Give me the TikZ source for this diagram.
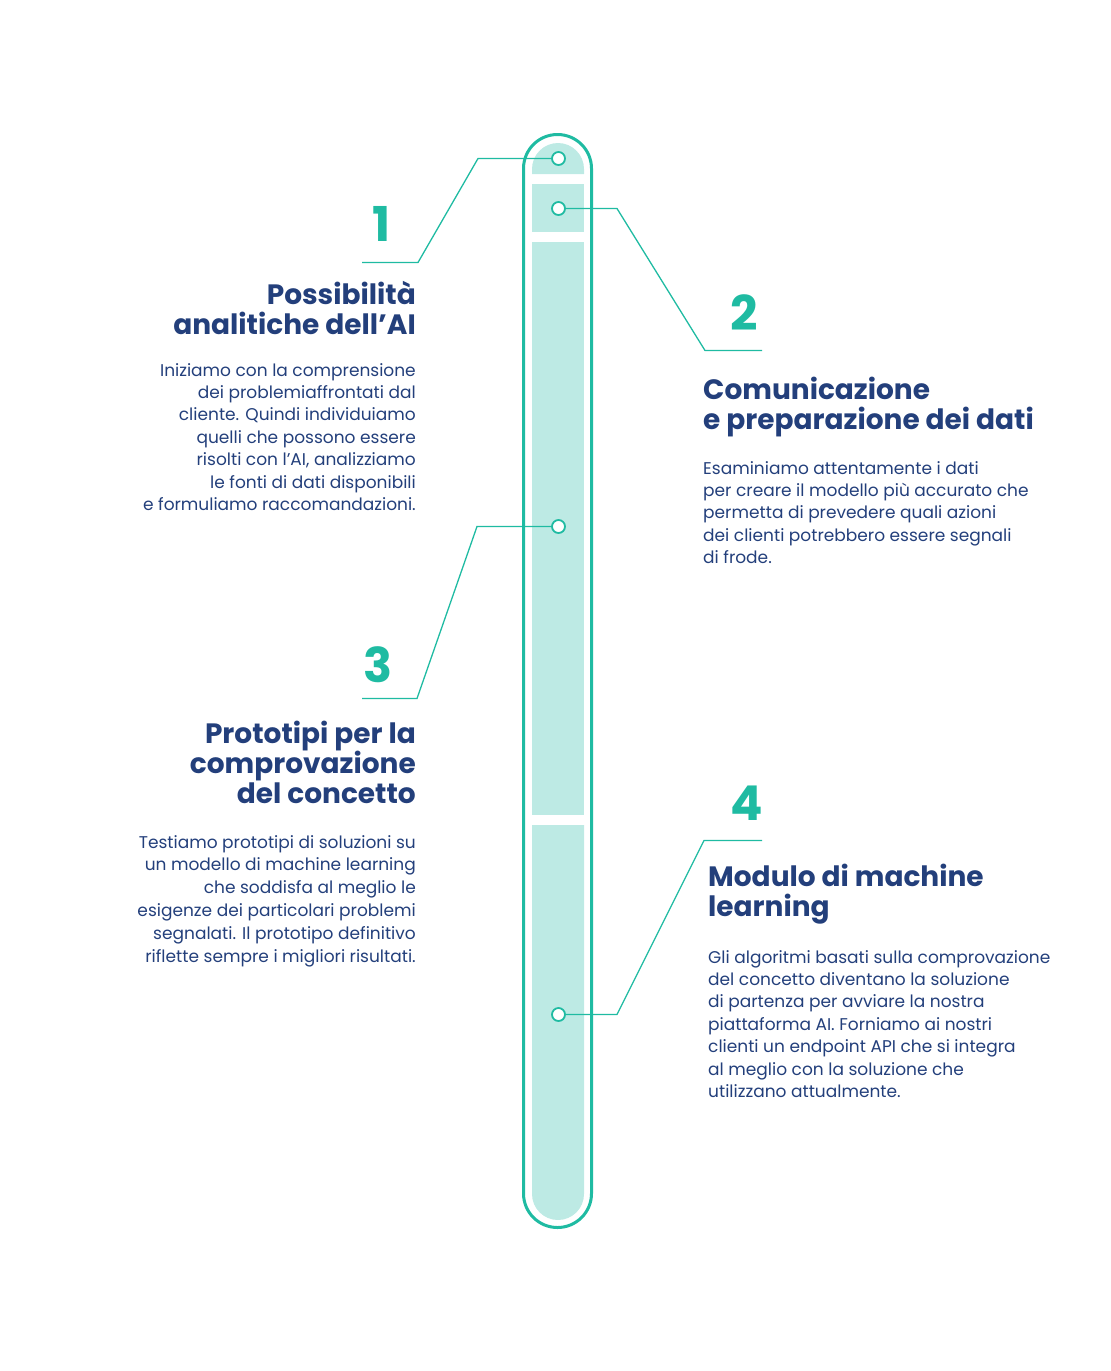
\documentclass[tikz,border=0pt]{standalone}
\usepackage{fontspec}
\setmainfont{Poppins}
\usetikzlibrary{positioning}
\definecolor{teal1}{HTML}{1FBBA2}
\definecolor{tealfill}{HTML}{BDEAE4}
\definecolor{navy}{HTML}{233F7B}

\begin{document}
\begin{tikzpicture}[
    x=1pt, y=-1pt,
    tube/.style={draw=teal1, line width=3pt, rounded corners=34pt},
    seg/.style={fill=tealfill},
    dot/.style={circle, draw=teal1, fill=white, line width=1.8pt, minimum size=13pt, inner sep=0pt},
    link/.style={draw=teal1, line width=1.3pt},
    num/.style={text=teal1, font=\fontsize{48}{48}\selectfont\bfseries, inner sep=0pt},
    head/.style={text=navy, font=\fontsize{28}{30}\selectfont\bfseries, inner sep=0pt},
    body/.style={text=navy, font=\fontsize{17}{22.4}\selectfont, inner sep=0pt}
]
\useasboundingbox (0,0) rectangle (1111,1371);

% 1. Tube and its filled segments
\draw[tube] (523.5,134.5) rectangle (591.5,1227.5);
\fill[seg] (532,174) -- (532,169) arc[start angle=180, end angle=0, radius=26pt] -- (584,174) -- cycle;
\fill[seg] (532,184) rectangle (584,232);
\fill[seg] (532,242) rectangle (584,815);
\fill[seg] (532,825) -- (584,825) -- (584,1194) arc[start angle=0, end angle=-180, radius=26pt] -- cycle;

% 2. Dots on the tube
\node[dot] (d1) at (558.5,158.5) {};
\node[dot] (d2) at (558.5,208.5) {};
\node[dot] (d3) at (558.5,526.5) {};
\node[dot] (d4) at (558.5,1014.5) {};

% 3. Bend points of the connectors
\coordinate (k1a) at (478,158.5);
\coordinate (k1b) at (418,262.5);
\coordinate (k1c) at (362,262.5);
\coordinate (k2a) at (617,208.5);
\coordinate (k2b) at (705,350.5);
\coordinate (k2c) at (762,350.5);
\coordinate (k3a) at (477,526.5);
\coordinate (k3b) at (417,698.5);
\coordinate (k3c) at (362,698.5);
\coordinate (k4a) at (617,1014.5);
\coordinate (k4b) at (704,840.5);
\coordinate (k4c) at (762,840.5);

\draw[link] (d1) -- (k1a) -- (k1b) -- (k1c);
\draw[link] (d2) -- (k2a) -- (k2b) -- (k2c);
\draw[link] (d3) -- (k3a) -- (k3b) -- (k3c);
\draw[link] (d4) -- (k4a) -- (k4b) -- (k4c);

% 4. Step numbers
\node[num] (n1) at (382,224) {1};
\node[num] (n2) at (744,313) {2};
\node[num] (n3) at (378,665) {3};
\node[num] (n4) at (747,803) {4};

% 5. Left column texts
\node[head, anchor=north east, align=right] (h1) at (416,281) {Possibilità\\analitiche dell’AI};
\node[body, anchor=north east, align=right] (b1) at (416,363) {Iniziamo con la comprensione\\dei problemiaffrontati dal\\cliente. Quindi individuiamo\\quelli che possono essere\\risolti con l’AI, analizziamo\hspace*{0.25em}\\le fonti di dati disponibili\hspace*{0.25em}\\e formuliamo raccomandazioni.};
\node[head, anchor=north east, align=right] (h3) at (416,721) {Prototipi per la\\comprovazione\\del concetto};
\node[body, anchor=north east, align=right, font=\fontsize{17}{22.8}\selectfont] (b3) at (416,835) {Testiamo prototipi di soluzioni su\\un modello di machine learning\\che soddisfa al meglio le\\esigenze dei particolari problemi\\segnalati. Il prototipo definitivo\\riflette sempre i migliori risultati.};

% 6. Right column texts
\node[head, anchor=north west, align=left] (h2) at (703,377) {Comunicazione\\e preparazione dei dati};
\node[body, anchor=north west, align=left] (b2) at (703,461) {Esaminiamo attentamente i dati\\per creare il modello più accurato che\\permetta di prevedere quali azioni\\dei clienti potrebbero essere segnali\\di frode.};
\node[head, anchor=north west, align=left] (h4) at (708,864) {Modulo di machine\\learning};
\node[body, anchor=north west, align=left] (b4) at (708,950) {Gli algoritmi basati sulla comprovazione\\del concetto diventano la soluzione\\di partenza per avviare la nostra\\piattaforma AI. Forniamo ai nostri\\clienti un endpoint API che si integra\\al meglio con la soluzione che\\utilizzano attualmente.};

\end{tikzpicture}
\end{document}
